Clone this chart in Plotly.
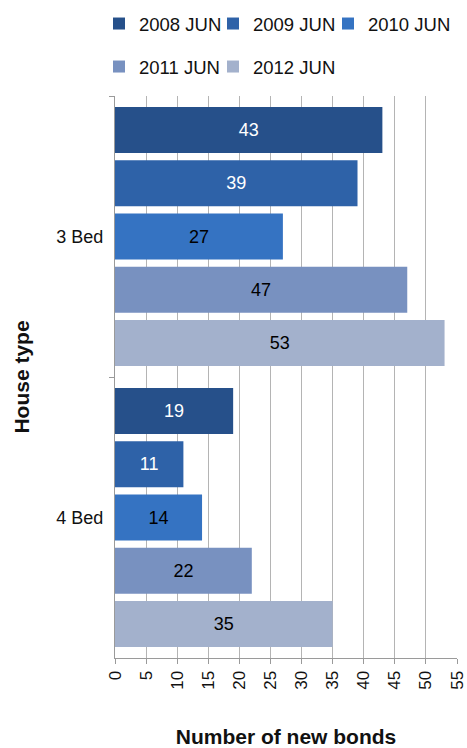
import plotly.graph_objects as go

categories = ["3 Bed", "4 Bed"]
series_names = ["2008 JUN", "2009 JUN", "2010 JUN", "2011 JUN", "2012 JUN"]
values_2008 = [43, 19]
values_2009 = [39, 11]
values_2010 = [27, 14]
values_2011 = [47, 22]
values_2012 = [53, 35]
x_ticks = list(range(0, 56, 5))

series_values = [values_2008, values_2009, values_2010, values_2011, values_2012]
colors = ["#26508a", "#2e62a8", "#3573c2", "#7891c0", "#a3b1cc"]
text_colors = ["white", "white", "black", "black", "black"]
# one legend per entry so the two-row layout can be placed like the original
legend_ids = ["legend", "legend2", "legend3", "legend4", "legend5"]
legend_pos = [(99, 24), (213, 24), (328, 24), (99, 67), (213, 67)]

FONT = "Liberation Sans, Arial, sans-serif"

fig = go.Figure()
for name, vals, col, tcol, lg in zip(series_names, series_values, colors, text_colors, legend_ids):
    fig.add_trace(go.Bar(
        y=categories, x=vals, name=name, orientation="h",
        marker=dict(color=col, line=dict(width=0)),
        text=vals, textposition="inside", insidetextanchor="middle",
        textfont=dict(color=tcol, size=18, family=FONT),
        legend=lg, showlegend=True,
    ))

legend_layout = {}
for lg, (px, py) in zip(legend_ids, legend_pos):
    legend_layout[lg] = dict(
        orientation="h", xref="container", yref="container",
        x=px / 467, y=1 - py / 748, xanchor="left", yanchor="middle",
        font=dict(size=18.5, family=FONT, color="#111"),
        bgcolor="rgba(0,0,0,0)", itemclick=False, itemdoubleclick=False,
    )

fig.update_layout(
    width=467, height=748,
    showlegend=True,
    margin=dict(l=115, r=10, t=96, b=90, autoexpand=False),
    paper_bgcolor="white", plot_bgcolor="white",
    barmode="group", bargap=0.052, bargroupgap=0.137,
    font=dict(family=FONT, size=18, color="#111"),
    uniformtext=dict(mode=False),
    **legend_layout,
)

fig.update_xaxes(
    range=[0, 55], tickvals=x_ticks, tickangle=-90, automargin=False,
    showgrid=True, gridcolor="#b4b4b4", gridwidth=1,
    showline=True, linecolor="#9a9a9a", linewidth=1,
    ticks="outside", ticklen=5, tickcolor="#9a9a9a",
    tickfont=dict(size=17, family=FONT, color="#111"),
    zeroline=False,
    title=dict(text="<b>Number of new bonds</b>", font=dict(size=21, family=FONT, color="#111"), standoff=44),
)
fig.update_yaxes(
    categoryorder="array", categoryarray=categories, autorange="reversed", automargin=False,
    showline=True, linecolor="#9a9a9a", linewidth=1,
    ticks="outside", ticklen=5, tickcolor="#9a9a9a", tickson="boundaries",
    tickfont=dict(size=18, family=FONT, color="#111"), ticklabelstandoff=7,
    showgrid=False,
    title=dict(text="<b>House type</b>", font=dict(size=21, family=FONT, color="#111"), standoff=21),
)

fig.write_html("out.html")
